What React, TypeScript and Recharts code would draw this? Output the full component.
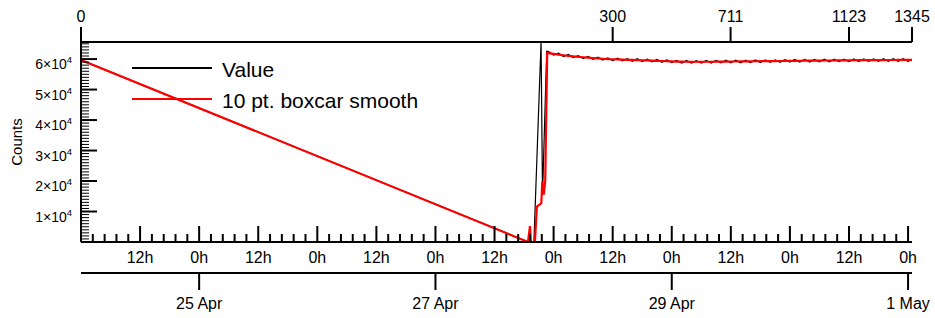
import { LineChart, Line, XAxis, YAxis, Legend } from "recharts";

const FONT = "'Liberation Sans', Arial, Helvetica, sans-serif";

// time axis is hours since 24 Apr 0h
const hourDomain = [0, 168.8];
const hourMinorStep = 2.4;
const dateTickHours = [24, 72, 120, 168];
const dateTickLabels = ["25 Apr", "27 Apr", "29 Apr", "1 May"];

// top axis: point number at the time it was taken
const pointIndexLabels = [0, 300, 711, 1123, 1345];
const pointIndexHours = [0, 108.0, 131.95, 156.0, 168.8];

const countDomain = [0, 65600];
const countMajorTicks = [10000, 20000, 30000, 40000, 50000, 60000];
const countMinorStep = 1000;

// raw counts before the plateau
const valueLeadHours = [0, 90.9, 92.0, 93.45, 93.75, 94.6];
const valueLeadCounts = [59700, 0, 0, 65600, 15500, 62600];

// 10 pt boxcar before the plateau
const smoothLeadHours = [0, 90.8, 91.2, 91.4, 92.2, 92.6, 93.5, 93.7, 94.0, 94.3, 94.7];
const smoothLeadCounts = [59700, 0, 5200, 0, 0, 11600, 12700, 19800, 15500, 20000, 62000];

// plateau, hourly readings
const plateauHours = [
  95, 96, 97, 98, 99, 100, 101, 102, 103, 104, 105, 106, 107, 108, 109, 110,
  111, 112, 113, 114, 115, 116, 117, 118, 119, 120, 121, 122, 123, 124, 125,
  126, 127, 128, 129, 130, 131, 132, 133, 134, 135, 136, 137, 138, 139, 140,
  141, 142, 143, 144, 145, 146, 147, 148, 149, 150, 151, 152, 153, 154, 155,
  156, 157, 158, 159, 160, 161, 162, 163, 164, 165, 166, 167, 168, 168.8,
];
const plateauSmooth = [
  61950, 61700, 61450, 61250, 61050, 60900, 60750, 60600, 60450, 60330, 60200,
  60100, 60000, 59950, 59880, 59820, 59760, 59720, 59680, 59620, 59560, 59500,
  59430, 59360, 59290, 59220, 59160, 59140, 59120, 59110, 59120, 59100, 59130,
  59120, 59150, 59160, 59180, 59200, 59210, 59230, 59250, 59260, 59280, 59300,
  59310, 59330, 59350, 59370, 59390, 59410, 59430, 59450, 59460, 59480, 59500,
  59510, 59530, 59540, 59560, 59570, 59590, 59600, 59610, 59630, 59640, 59650,
  59660, 59670, 59680, 59690, 59700, 59710, 59720, 59730, 59740,
];
const plateauValue = [
  62450, 61300, 61900, 60850, 61500, 60500, 61150, 60200, 60850, 59950,
  60600, 59700, 60400, 59500, 60300, 59400, 60150, 59300, 60100, 59200,
  59950, 59100, 59850, 58950, 59700, 58850, 59550, 58700, 59550, 58700,
  59500, 58650, 59550, 58700, 59550, 58750, 59600, 58750, 59650, 58800,
  59650, 58850, 59700, 58850, 59750, 58900, 59750, 58950, 59800, 59000,
  59850, 59000, 59900, 59050, 59900, 59100, 59950, 59100, 59950, 59150,
  60000, 59150, 60050, 59200, 60050, 59250, 60050, 59250, 60100, 59250,
  60100, 59300, 60150, 59300, 59900,
];

// one table keyed by time; a series is blank where it has no reading
type Row = { t: number; value?: number; smooth?: number };
const rowsByHour = new Map<number, Row>();
const put = (t: number, key: "value" | "smooth", c: number) => {
  const row = rowsByHour.get(t) ?? { t };
  row[key] = c;
  rowsByHour.set(t, row);
};
valueLeadHours.forEach((t, i) => put(t, "value", valueLeadCounts[i]));
smoothLeadHours.forEach((t, i) => put(t, "smooth", smoothLeadCounts[i]));
plateauHours.forEach((t, i) => {
  put(t, "value", plateauValue[i]);
  put(t, "smooth", plateauSmooth[i]);
});
const chartData = [...rowsByHour.values()].sort((a, b) => a.t - b.t);

const hourTicks = Array.from(
  { length: Math.floor(168 / hourMinorStep) + 1 },
  (_, i) => Math.round(i * hourMinorStep * 10) / 10
);
const countTicks = Array.from(
  { length: Math.floor(countDomain[1] / countMinorStep) + 1 },
  (_, i) => i * countMinorStep
);

const isMultiple = (v: number, step: number) =>
  Math.abs(v / step - Math.round(v / step)) < 1e-6;

function CountTick({ x, y, payload }: any) {
  const v = payload.value;
  const major = countMajorTicks.includes(v);
  return (
    <g>
      <line x1={x} x2={x + (major ? 16 : 8)} y1={y} y2={y} stroke="#000" strokeWidth={major ? 2 : 1} />
      {major && (
        <text x={x - 9} y={y + 10} textAnchor="end" fontSize={14} fontFamily={FONT} fill="#000">
          {v / 10000}×10
          <tspan dy={-6} fontSize={9.5}>4</tspan>
        </text>
      )}
    </g>
  );
}

function HourTick({ x, y, payload }: any) {
  const v = payload.value;
  const major = isMultiple(v, 12);
  return (
    <g>
      <line x1={x} x2={x} y1={y} y2={y - (major ? 16 : 8)} stroke="#000" strokeWidth={2} />
      {major && v > 0 && (
        <text x={x} y={y + 21} textAnchor="middle" fontSize={16} fontFamily={FONT} fill="#000">
          {isMultiple(v, 24) ? "0h" : "12h"}
        </text>
      )}
    </g>
  );
}

function DateTick({ x, y, payload }: any) {
  const label = dateTickLabels[dateTickHours.indexOf(payload.value)];
  return (
    <g>
      <line x1={x} x2={x} y1={y} y2={y + 17} stroke="#000" strokeWidth={2} />
      <text x={x} y={y + 36} textAnchor="middle" fontSize={16} fontFamily={FONT} fill="#000">
        {label}
      </text>
    </g>
  );
}

function IndexTick({ x, y, payload }: any) {
  const label = pointIndexLabels[pointIndexHours.indexOf(payload.value)];
  return (
    <g>
      <line x1={x} x2={x} y1={y} y2={y - 15} stroke="#000" strokeWidth={2} />
      <text x={x} y={y - 20} textAnchor="middle" fontSize={16} fontFamily={FONT} fill="#000">
        {label}
      </text>
    </g>
  );
}

function CountsLabel({ viewBox }: any) {
  const cx = viewBox.x + 22;
  const cy = viewBox.y + viewBox.height / 2;
  return (
    <text x={cx} y={cy} transform={`rotate(-90 ${cx} ${cy})`} textAnchor="middle" fontSize={15} fontFamily={FONT} fill="#000">
      Counts
    </text>
  );
}

function LegendBox() {
  return (
    <svg width={300} height={62} style={{ display: "block", overflow: "visible" }}>
      <line x1={0} x2={80} y1={13} y2={13} stroke="#000" strokeWidth={2} />
      <text x={90} y={22} fontSize={21} fontFamily={FONT} fill="#000">Value</text>
      <line x1={0} x2={80} y1={44} y2={44} stroke="#ff0000" strokeWidth={2} />
      <text x={90} y={53} fontSize={21} fontFamily={FONT} fill="#000">10 pt. boxcar smooth</text>
    </svg>
  );
}

const axisStroke = { stroke: "#000", strokeWidth: 2 };

export default function App() {
  return (
    <div style={{ position: "absolute", left: 0, top: 0, background: "#fff" }}>
      <LineChart data={chartData} width={935} height={318} margin={{ top: 0, right: 23, bottom: 0, left: 0 }}>
        <XAxis
          xAxisId="x1"
          dataKey="t"
          orientation="top"
          type="number"
          domain={hourDomain}
          allowDataOverflow
          ticks={pointIndexHours}
          interval={0}
          height={42}
          tickSize={0}
          tickMargin={0}
          tickLine={false}
          axisLine={axisStroke}
          tick={<IndexTick />}
        />
        <XAxis
          xAxisId="x2"
          dataKey="t"
          orientation="bottom"
          type="number"
          domain={hourDomain}
          allowDataOverflow
          ticks={hourTicks}
          interval={0}
          height={31}
          tickSize={0}
          tickMargin={0}
          tickLine={false}
          axisLine={axisStroke}
          tick={<HourTick />}
        />
        <XAxis
          xAxisId="x3"
          dataKey="t"
          orientation="bottom"
          type="number"
          domain={hourDomain}
          allowDataOverflow
          ticks={dateTickHours}
          interval={0}
          height={45}
          tickSize={0}
          tickMargin={0}
          tickLine={false}
          axisLine={axisStroke}
          tick={<DateTick />}
        />
        <YAxis
          type="number"
          domain={countDomain}
          allowDataOverflow
          ticks={countTicks}
          interval={0}
          width={81}
          tickSize={0}
          tickMargin={0}
          tickLine={false}
          axisLine={axisStroke}
          tick={<CountTick />}
          label={CountsLabel}
        />
        <Legend
          layout="horizontal"
          verticalAlign="middle"
          align="center"
          wrapperStyle={{ left: 132, top: 55, width: 300, height: 62 }}
          content={LegendBox}
        />
        <Line
          xAxisId="x2"
          dataKey="value"
          type="linear"
          connectNulls
          stroke="#000"
          strokeWidth={1.2}
          dot={false}
          isAnimationActive={false}
        />
        <Line
          xAxisId="x2"
          dataKey="smooth"
          type="linear"
          connectNulls
          stroke="#ff0000"
          strokeWidth={2.2}
          dot={false}
          isAnimationActive={false}
        />
      </LineChart>
    </div>
  );
}
